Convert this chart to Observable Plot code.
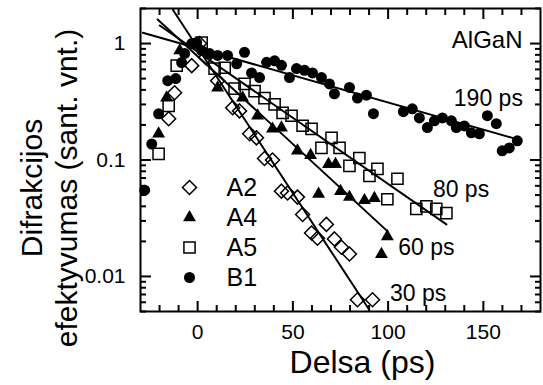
<!DOCTYPE html>
<html><head><meta charset="utf-8">
<script src="https://cdn.jsdelivr.net/npm/d3@7"></script>
<script src="https://cdn.jsdelivr.net/npm/@observablehq/plot@0.6"></script>
<style>body{margin:0;background:#fff}</style>
</head><body><div id="chart"></div>
<script>
// ---- data ----
const a2Delay = [-15.2,-12.1,-3.1,1.0,4.2,10.5,18.4,22.0,27.3,30.9,35.1,39.3,44.0,47.2,52.4,55.1,59.8,62.9,67.6,71.8,75.5,79.7,83.9,91.8];
const a2Eff   = [0.226,0.378,0.646,1.0,0.76,0.48,0.281,0.264,0.168,0.155,0.103,0.100,0.054,0.052,0.048,0.034,0.0236,0.0213,0.028,0.021,0.0178,0.0156,0.0063,0.0063];

const a4Delay = [-20.5,-16.3,-9.4,-0.5,10.5,23.6,31.5,39.3,44.0,52.4,59.3,63.5,68.7,72.4,75.0,79.7,87.6,92.8,96.5,99.6];
const a4Eff   = [0.168,0.343,0.87,1.0,0.418,0.343,0.24,0.185,0.189,0.12,0.11,0.051,0.092,0.092,0.054,0.048,0.045,0.047,0.0155,0.022];

const a5Delay = [-20.5,-15.2,-11.0,2.1,8.9,14.2,19.4,24.6,29.9,35.1,40.4,44.6,49.3,55.1,59.8,65.0,70.3,74.5,79.7,84.9,90.2,94.4,99.6,104.9,114.8,120.1,125.3,130.6];
const a5Eff   = [0.113,0.292,0.646,1.02,0.61,0.62,0.41,0.45,0.39,0.34,0.30,0.254,0.24,0.197,0.185,0.127,0.155,0.127,0.089,0.104,0.073,0.084,0.046,0.069,0.038,0.040,0.038,0.035];

const b1Delay = [-27.8,-24.1,-20.5,-15.7,-11.5,-8.4,-6.8,-3.1,-0.5,2.1,6.3,10.5,15.7,20.5,24.6,28.3,32.5,36.2,40.4,44.0,48.2,51.9,56.1,60.3,65.0,69.2,71.8,79.7,83.9,88.6,92.3,108.0,112.7,116.4,120.6,124.3,128.5,133.2,135.8,140.0,143.7,147.9,152.1,156.8,159.9,163.6,167.8];
const b1Eff   = [0.055,0.137,0.249,0.48,0.50,0.686,0.82,1.0,1.02,0.87,0.82,0.79,0.79,0.67,0.84,0.56,0.51,0.69,0.71,0.65,0.51,0.61,0.59,0.56,0.51,0.45,0.37,0.42,0.34,0.36,0.25,0.26,0.275,0.23,0.19,0.217,0.23,0.217,0.19,0.196,0.171,0.168,0.24,0.205,0.12,0.127,0.146];

// fitted lines (end points)
const fitA2Delay = [-13, 90];   const fitA2Eff = [1.95, 0.0052];
const fitA4Delay = [-21, 99.6]; const fitA4Eff = [1.61, 0.0245];
const fitA5Delay = [-19.9, 130.6]; const fitA5Eff = [1.43, 0.028];
const fitB1Delay = [-28.8, 165.2]; const fitB1Eff = [1.24, 0.155];

// annotations
const annoText  = ["190 ps", "80 ps", "60 ps", "30 ps"];
const annoDelay = [134.5, 123.5, 105.3, 101.0];
const annoEff   = [0.336, 0.0562, 0.0178, 0.00714];

const seriesNames = ["A2", "A4", "A5", "B1"];

// ticks
const xMajor = [0, 50, 100, 150];
const xMinor = [-20, -10, 10, 20, 30, 40, 60, 70, 80, 90, 110, 120, 130, 140, 160, 170];
const yMajor = [0.01, 0.1, 1];
const yMinor = [0.005, 0.006, 0.007, 0.008, 0.009, 0.02, 0.03, 0.04, 0.05, 0.06, 0.07, 0.08, 0.09, 0.2, 0.3, 0.4, 0.5, 0.6, 0.7, 0.8, 0.9, 2];

// ---- build ----
const pts = (xs, ys) => xs.map((x, i) => ({x, y: ys[i]}));
const A2 = pts(a2Delay, a2Eff), A4 = pts(a4Delay, a4Eff), A5 = pts(a5Delay, a5Eff), B1 = pts(b1Delay, b1Eff);
const K = "#000";
const styles = {
  A2: {symbol: "diamond2", r: 6.3, fill: "none", stroke: K, strokeWidth: 1.5},
  A4: {symbol: "triangle", r: 4.8, fill: K, stroke: "none"},
  A5: {symbol: "square", r: 6.3, fill: "none", stroke: K, strokeWidth: 1.5},
  B1: {symbol: "circle", r: 5.5, fill: K, stroke: "none"}
};
const tk = (data, anchor, size) => (anchor === "left" || anchor === "right")
  ? Plot.axisY(data, {anchor, tickSize: size, strokeWidth: 2, fill: "none", label: null})
  : Plot.axisX(data, {anchor, tickSize: size, strokeWidth: 2, fill: "none", label: null});

const legend = [];
seriesNames.forEach((name, i) => {
  legend.push(Plot.dot([name], {frameAnchor: "top-left", dx: 49, dy: 179 + 30 * i, ...styles[name]}));
  legend.push(Plot.text([name], {frameAnchor: "top-left", dx: 86, dy: 179 + 30 * i, textAnchor: "start", lineAnchor: "middle", fontSize: 25, fill: K}));
});

const chart = Plot.plot({
  width: 543, height: 385,
  marginLeft: 140, marginRight: 3, marginTop: 8, marginBottom: 74,
  style: {fontFamily: "'Liberation Sans', Arial, sans-serif", background: "#fff", color: K},
  x: {domain: [-30, 180]},
  y: {type: "log", domain: [0.005, 2]},
  marks: [
    Plot.dot(A2, {x: "x", y: "y", ...styles.A2}),
    Plot.dot(A4, {x: "x", y: "y", ...styles.A4}),
    Plot.dot(A5, {x: "x", y: "y", ...styles.A5}),
    Plot.dot(B1, {x: "x", y: "y", ...styles.B1}),
    Plot.line(pts(fitA2Delay, fitA2Eff), {x: "x", y: "y", stroke: K, strokeWidth: 2, clip: true}),
    Plot.line(pts(fitA4Delay, fitA4Eff), {x: "x", y: "y", stroke: K, strokeWidth: 2, clip: true}),
    Plot.line(pts(fitA5Delay, fitA5Eff), {x: "x", y: "y", stroke: K, strokeWidth: 2, clip: true}),
    Plot.line(pts(fitB1Delay, fitB1Eff), {x: "x", y: "y", stroke: K, strokeWidth: 2, clip: true}),
    Plot.text(annoText, {x: annoDelay, y: annoEff, text: d => d, textAnchor: "start", lineAnchor: "middle", fontSize: 23, fill: K}),
    Plot.text(["AlGaN"], {frameAnchor: "top-right", dx: -18, dy: 32, textAnchor: "end", lineAnchor: "middle", fontSize: 24, fill: K}),
    ...legend,
    tk(xMajor, "bottom", -10), tk(xMinor, "bottom", -6),
    tk(xMajor, "top", -10), tk(xMinor, "top", -6),
    tk(yMajor, "left", -11), tk(yMinor, "left", -6),
    tk(yMajor, "right", -11), tk(yMinor, "right", -6),
    Plot.axisX(xMajor, {anchor: "bottom", tickSize: 0, tickPadding: 13, fontSize: 21, label: null}),
    Plot.axisY(yMajor, {anchor: "left", tickSize: 0, tickPadding: 15, fontSize: 21, label: null, tickFormat: d => String(d)}),
    Plot.text(["Delsa (ps)"], {frameAnchor: "bottom", dx: 22, dy: 51, textAnchor: "middle", lineAnchor: "middle", fontSize: 32, fill: K}),
    Plot.text(["Difrakcijos\nefektyvumas (sant. vnt.)"], {frameAnchor: "left", dx: -92, dy: 28, rotate: -90, textAnchor: "middle", lineAnchor: "middle", fontSize: 30, lineHeight: 1.17, fill: K}),
    Plot.frame({stroke: K, strokeWidth: 2})
  ]
});
document.getElementById("chart").appendChild(chart);
</script>
</body></html>
